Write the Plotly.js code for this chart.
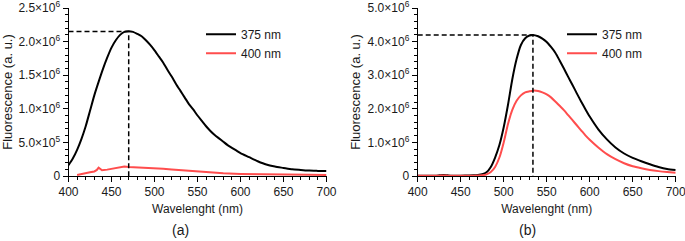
<!DOCTYPE html>
<html>
<head>
<meta charset="utf-8">
<script src="https://cdn.plot.ly/plotly-3.0.1.min.js"></script>
<style>html,body{margin:0;padding:0;background:#fff}#chart{width:685px;height:241px}</style>
</head>
<body>
<div id="chart"></div>
<script>
// Panel (a)
const wlA375 = [400,405,410,415,420,425,430,435,440,445,450,455,460,465,470,475,480,485,490,495,500,505,510,515,520,525,530,535,540,545,550,555,560,565,570,575,580,585,590,595,600,610,620,630,640,650,660,670,680,690,700];
const flA375 = [0.16e6,0.26e6,0.39e6,0.55e6,0.74e6,0.97e6,1.20e6,1.40e6,1.59e6,1.76e6,1.91e6,2.02e6,2.10e6,2.145e6,2.155e6,2.145e6,2.115e6,2.08e6,2.02e6,1.95e6,1.87e6,1.78e6,1.69e6,1.58e6,1.48e6,1.37e6,1.27e6,1.17e6,1.07e6,0.99e6,0.90e6,0.82e6,0.74e6,0.67e6,0.61e6,0.56e6,0.51e6,0.46e6,0.42e6,0.38e6,0.34e6,0.28e6,0.22e6,0.17e6,0.14e6,0.12e6,0.10e6,0.09e6,0.08e6,0.076e6,0.073e6];
const wlA400 = [410,415,420,425,430,433,435,437,439,445,450,455,460,465,470,480,490,500,510,520,530,540,550,560,570,580,600,620,640,660,680,700];
const flA400 = [0.015e6,0.025e6,0.04e6,0.055e6,0.068e6,0.09e6,0.125e6,0.10e6,0.085e6,0.095e6,0.105e6,0.118e6,0.13e6,0.14e6,0.135e6,0.13e6,0.125e6,0.118e6,0.108e6,0.098e6,0.088e6,0.076e6,0.064e6,0.054e6,0.046e6,0.04e6,0.031e6,0.025e6,0.021e6,0.019e6,0.017e6,0.015e6];
const peakA = {x: 470, y: 2.15e6};

// Panel (b)
const wlB = [400,410,420,425,430,435,440,450,460,465,470,475,480,485,490,495,500,505,510,515,520,525,530,534,540,545,550,555,560,565,570,575,580,585,590,595,600,610,620,630,640,650,660,670,680,690,700];
const flB375 = [0.005e6,0.008e6,0.01e6,0.02e6,0.03e6,0.02e6,0.01e6,0.01e6,0.015e6,0.02e6,0.03e6,0.05e6,0.11e6,0.27e6,0.55e6,0.92e6,1.45e6,2.12e6,2.88e6,3.48e6,3.90e6,4.10e6,4.18e6,4.20e6,4.16e6,4.09e6,3.99e6,3.84e6,3.67e6,3.44e6,3.20e6,2.95e6,2.71e6,2.46e6,2.22e6,1.99e6,1.77e6,1.39e6,1.09e6,0.85e6,0.67e6,0.54e6,0.44e6,0.35e6,0.27e6,0.21e6,0.18e6];
const flB400 = [0.005e6,0.005e6,0.006e6,0.01e6,0.015e6,0.01e6,0.006e6,0.005e6,0.006e6,0.008e6,0.012e6,0.02e6,0.05e6,0.12e6,0.27e6,0.55e6,1.00e6,1.55e6,1.97e6,2.24e6,2.40e6,2.49e6,2.52e6,2.54e6,2.53e6,2.49e6,2.43e6,2.34e6,2.22e6,2.09e6,1.96e6,1.81e6,1.66e6,1.51e6,1.36e6,1.21e6,1.08e6,0.85e6,0.65e6,0.50e6,0.38e6,0.29e6,0.23e6,0.18e6,0.145e6,0.12e6,0.10e6];
const peakB = {x: 534, y: 4.2e6};

const seriesNames = ['375 nm', '400 nm'];
const xTicks = [400,450,500,550,600,650,700];
const yTicksA = [0,0.5e6,1.0e6,1.5e6,2.0e6,2.5e6];
const yTickTextA = ['0','5.0×10<sup>5</sup>','1.0×10<sup>6</sup>','1.5×10<sup>6</sup>','2.0×10<sup>6</sup>','2.5×10<sup>6</sup>'];
const yTicksB = [0,1e6,2e6,3e6,4e6,5e6];
const yTickTextB = ['0','1.0×10<sup>6</sup>','2.0×10<sup>6</sup>','3.0×10<sup>6</sup>','4.0×10<sup>6</sup>','5.0×10<sup>6</sup>'];

const BLACK = '#000000', RED = '#ff4d4d';
const FONT = 'Liberation Sans, Arial, sans-serif';
const TXT = '#1a1a1a';

const traces = [
  {x: wlA375, y: flA375, name: seriesNames[0], mode: 'lines', line: {color: BLACK, width: 2, shape: 'spline', smoothing: 0.6}, xaxis: 'x', yaxis: 'y', legend: 'legend'},
  {x: wlA400, y: flA400, name: seriesNames[1], mode: 'lines', line: {color: RED, width: 2}, xaxis: 'x', yaxis: 'y', legend: 'legend'},
  {x: [400, peakA.x, peakA.x], y: [peakA.y, peakA.y, 0], mode: 'lines', line: {color: BLACK, width: 1.5, dash: '5px,3px'}, showlegend: false, xaxis: 'x', yaxis: 'y', hoverinfo: 'skip'},
  {x: wlB, y: flB375, name: seriesNames[0], mode: 'lines', line: {color: BLACK, width: 2, shape: 'spline', smoothing: 0.6}, xaxis: 'x2', yaxis: 'y2', legend: 'legend2'},
  {x: wlB, y: flB400, name: seriesNames[1], mode: 'lines', line: {color: RED, width: 2, shape: 'spline', smoothing: 0.6}, xaxis: 'x2', yaxis: 'y2', legend: 'legend2'},
  {x: [400, peakB.x, peakB.x], y: [peakB.y, peakB.y, 0], mode: 'lines', line: {color: BLACK, width: 1.5, dash: '5px,3px'}, showlegend: false, xaxis: 'x2', yaxis: 'y2', hoverinfo: 'skip'}
];

function xAxis(domain, anchor) {
  return {
    domain: domain, anchor: anchor, range: [400, 700], tickvals: xTicks, ticktext: xTicks.map(String),
    showline: true, linecolor: '#000', linewidth: 1, ticks: 'outside', ticklen: 5, tickcolor: '#000', tickwidth: 1,
    minor: {ticks: 'outside', dtick: 10, ticklen: 3, tickcolor: '#000', tickwidth: 1},
    showgrid: false, zeroline: false, ticklabeloverflow: 'allow', tickfont: {family: FONT, size: 12, color: TXT},
    title: {text: 'Wavelenght (nm)', font: {family: FONT, size: 12, color: TXT}, standoff: 6}
  };
}
function yAxis(anchor, range, vals, text, minorStep) {
  return {
    anchor: anchor, range: range, tickvals: vals, ticktext: text,
    showline: true, linecolor: '#000', linewidth: 1, ticks: 'outside', ticklen: 5, tickcolor: '#000', tickwidth: 1,
    minor: {ticks: 'outside', dtick: minorStep, ticklen: 3, tickcolor: '#000', tickwidth: 1},
    showgrid: false, zeroline: false, ticklabeloverflow: 'allow', tickfont: {family: FONT, size: 12, color: TXT},
    title: {text: 'Fluorescence (a. u.)', font: {family: FONT, size: 13, color: TXT}, standoff: 4}
  };
}

const layout = {
  width: 685, height: 241,
  margin: {l: 0, r: 0, t: 8, b: 65},
  paper_bgcolor: '#fff', plot_bgcolor: '#fff',
  font: {family: FONT, color: TXT},
  xaxis: xAxis([68.5/685, 326.5/685], 'y'),
  yaxis: yAxis('x', [0, 2.5e6], yTicksA, yTickTextA, 0.1e6),
  xaxis2: xAxis([417.7/685, 675.7/685], 'y2'),
  yaxis2: yAxis('x2', [0, 5e6], yTicksB, yTickTextB, 0.2e6),
  legend: {x: 201/685, y: 0.93, xanchor: 'left', yanchor: 'top', bgcolor: 'rgba(0,0,0,0)', font: {family: FONT, size: 12, color: TXT}, tracegroupgap: 0},
  legend2: {x: 562/685, y: 0.93, xanchor: 'left', yanchor: 'top', bgcolor: 'rgba(0,0,0,0)', font: {family: FONT, size: 12, color: TXT}, tracegroupgap: 0},
  showlegend: true,
  annotations: [
    {text: '(a)', xref: 'paper', yref: 'paper', x: 180/685, y: (176-230)/168, xanchor: 'center', yanchor: 'middle', showarrow: false, font: {family: FONT, size: 14, color: TXT}},
    {text: '(b)', xref: 'paper', yref: 'paper', x: 527/685, y: (176-230)/168, xanchor: 'center', yanchor: 'middle', showarrow: false, font: {family: FONT, size: 14, color: TXT}}
  ]
};

Plotly.newPlot('chart', traces, layout, {displayModeBar: false, staticPlot: true});
</script>
</body>
</html>
